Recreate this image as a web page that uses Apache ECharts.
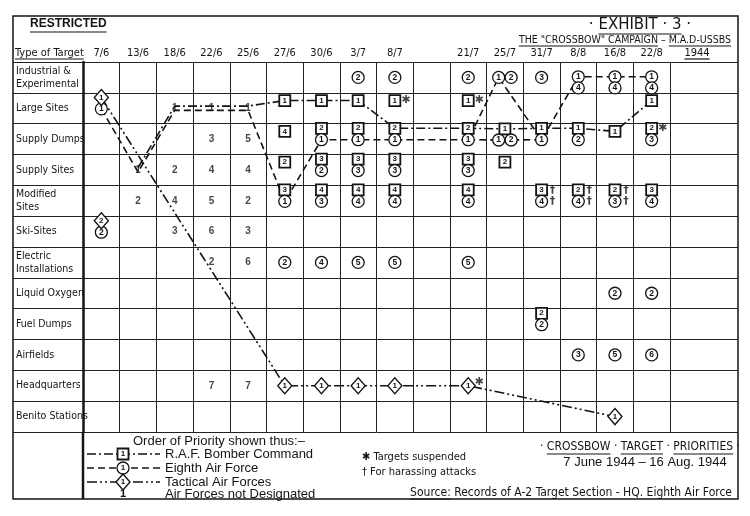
<!DOCTYPE html>
<html><head><meta charset="utf-8">
<script src="https://cdn.jsdelivr.net/npm/echarts@6/dist/echarts.min.js"></script>
<style>html,body{margin:0;padding:0;background:#fff}#c{width:750px;height:516px}</style>
</head><body><div id="c"></div>
<script>
// ---------- DATA ----------
const dates = ['7/6','13/6','18/6','22/6','25/6','27/6','30/6','3/7','8/7','','21/7','25/7','31/7','8/8','16/8','22/8'];
const targets = ['Industrial &\nExperimental','Large Sites','Supply Dumps','Supply Sites','Modified\nSites','Ski-Sites','Electric\nInstallations','Liquid Oxygen','Fuel Dumps','Airfields','Headquarters','Benito Stations'];
// [dateIndex, targetIndex, priority, note]
const rafSquares = [
  [5,1,'1'],[6,1,'1'],[7,1,'1'],[8,1,'1','*'],[10,1,'1','*'],[15,1,'1'],
  [5,2,'4'],[6,2,'2'],[7,2,'2'],[8,2,'2'],[10,2,'2'],[11,2,'1'],[12,2,'1'],[13,2,'1'],[14,2,'1'],[15,2,'2','*'],
  [5,3,'2'],[6,3,'3'],[7,3,'3'],[8,3,'3'],[10,3,'3'],[11,3,'2'],
  [5,4,'3'],[6,4,'4'],[7,4,'4'],[8,4,'4'],[10,4,'4'],[12,4,'3','†'],[13,4,'2','†'],[14,4,'2','†'],[15,4,'3'],
  [12,8,'2']
];
const eighthCircles = [
  [7,0,'2'],[8,0,'2'],[10,0,'2'],[11,0,'1'],[11,0,'2'],[12,0,'3'],[13,0,'1'],[13,0,'4'],[14,0,'1'],[14,0,'4'],[15,0,'1'],[15,0,'4'],
  [0,1,'1'],
  [6,2,'1'],[7,2,'1'],[8,2,'1'],[10,2,'1'],[11,2,'1'],[11,2,'2'],[12,2,'1'],[13,2,'2'],[15,2,'3'],
  [6,3,'2'],[7,3,'3'],[8,3,'3'],[10,3,'3'],
  [5,4,'1'],[6,4,'3'],[7,4,'4'],[8,4,'4'],[10,4,'4'],[12,4,'4','†'],[13,4,'4','†'],[14,4,'3','†'],[15,4,'4'],
  [0,5,'2'],
  [5,6,'2'],[6,6,'4'],[7,6,'5'],[8,6,'5'],[10,6,'5'],
  [14,7,'2'],[15,7,'2'],
  [12,8,'2'],
  [13,9,'3'],[14,9,'5'],[15,9,'6']
];
const tacticalDiamonds = [
  [0,1,'1'],[0,5,'2'],[5,10,'1'],[6,10,'1'],[7,10,'1'],[8,10,'1'],[10,10,'1','*'],[14,11,'1']
];
const notDesignated = [
  [2,1,'1'],[3,1,'1'],[4,1,'1'],
  [3,2,'3'],[4,2,'5'],
  [1,3,'1'],[2,3,'2'],[3,3,'4'],[4,3,'4'],
  [1,4,'2'],[2,4,'4'],[3,4,'5'],[4,4,'2'],
  [2,5,'3'],[3,5,'6'],[4,5,'3'],
  [3,6,'2'],[4,6,'6'],
  [3,10,'7'],[4,10,'7']
];
// priority-1 paths [dateIndex, targetIndex, priority]
const rafPath = [[1,3,'1'],[2,1,'1'],[3,1,'1'],[4,1,'1'],[5,1,'1'],[6,1,'1'],[7,1,'1'],[8,2,'2'],[10,2,'2'],[11,2,'1'],[12,2,'1'],[13,2,'1'],[14,2,'1'],[15,1,'1']];
const eighthPath = [[0,1,'1'],[1,3,'1'],[2,1,'1'],[3,1,'1'],[4,1,'1'],[5,4,'1'],[6,2,'1'],[7,2,'1'],[8,2,'1'],[10,2,'1'],[11,0,'1'],[12,2,'1'],[13,0,'1'],[14,0,'1'],[15,0,'1']];
const eighthBranch = [[10,2,'1'],[11,2,'1'],[12,2,'1']];
const tacticalPath = [[0,1,'1'],[5,10,'1'],[6,10,'1'],[7,10,'1'],[8,10,'1'],[10,10,'1'],[14,11,'1']];
const sideBySideCells = [[11,0],[11,2]];

// ---------- LAYOUT ----------
const INK = '#141414';
const HAND = "'Liberation Sans Narrow','DejaVu Sans Condensed','Liberation Sans',sans-serif";
const cells = {};
function add(force, arr){ arr.forEach(e => { const k = e[0]+'_'+e[1]; (cells[k] = cells[k] || []).push({force, col:e[0], row:e[1], label:e[2], note:e[3]||''}); }); }
add('raf', rafSquares); add('tac', tacticalDiamonds); add('eighth', eighthCircles); add('none', notDesignated);
Object.values(cells).forEach(items => {
  const c = items[0].col, r = items[0].row, cx = c + 0.5, cy = r + 0.5;
  const side = sideBySideCells.some(s => s[0] === c && s[1] === r);
  if (side) {
    const others = items.filter(i => i.force !== 'eighth'), circ = items.filter(i => i.force === 'eighth');
    others.forEach(i => { i.x = cx; i.y = cy - 0.33; });
    circ.forEach((i, k) => { i.x = cx + (k - (circ.length - 1) / 2) * 0.34; i.y = cy + (others.length ? 0.03 : 0); });
  } else if (items.length === 1) {
    const i = items[0]; i.x = cx; i.y = cy + (i.force === 'raf' ? -0.25 : 0);
  } else {
    items.forEach(i => i.x = cx);
    if (items[0].force === 'eighth') { items[0].y = cy - 0.02; items[1].y = cy + 0.34; }
    else { items[0].y = cy - 0.35; items[1].y = cy + 0.02; }
  }
});
const all = Object.values(cells).flat();
function pos(force, p, plainOff){
  let it = all.find(i => i.force === force && i.col === p[0] && i.row === p[1] && i.label === p[2]);
  if (it) return [it.x, it.y];
  it = all.find(i => i.force === 'none' && i.col === p[0] && i.row === p[1] && i.label === p[2]);
  return [it.x, it.y + plainOff];
}
function pts(force){ return all.filter(i => i.force === force).map(i => ({name:i.label, value:[i.x, i.y]})); }

const common = {xAxisIndex:1, yAxisIndex:1, animation:false, silent:true, emphasis:{disabled:true}};
const lineSer = (data, type, z) => Object.assign({type:'line', data, symbol:'none', z, lineStyle:{color:INK, width:1.6, type}}, common);
const markLabel = (size) => ({show:true, position:'inside', formatter:'{b}', fontSize:size, fontWeight:'bold', color:INK, fontFamily:'Liberation Sans, sans-serif'});
const series = [
  lineSer(rafPath.map(p => pos('raf', p, -0.07)), [9,3,2,3], 2),
  lineSer(eighthPath.map(p => pos('eighth', p, 0.07)), [7,4], 2),
  lineSer(eighthBranch.map(p => pos('eighth', p, 0.07)), [7,4], 2),
  lineSer(tacticalPath.map(p => pos('tac', p, 0)), [10,3,2,3,2,3], 2),
  Object.assign({type:'scatter', symbol:'rect', symbolSize:11, z:5, itemStyle:{color:'#fff', borderColor:INK, borderWidth:1.8, opacity:1}, label:markLabel(8), data:pts('raf')}, common),
  Object.assign({type:'scatter', symbol:'circle', symbolSize:12, z:5, itemStyle:{color:'#fff', borderColor:INK, borderWidth:1.3, opacity:1}, label:markLabel(8.5), data:pts('eighth')}, common),
  Object.assign({type:'scatter', symbol:'diamond', symbolSize:[14,16], z:5, itemStyle:{color:'#fff', borderColor:INK, borderWidth:1.4, opacity:1}, label:markLabel(8), data:pts('tac')}, common),
  Object.assign({type:'scatter', symbol:'rect', symbolSize:9, z:5, itemStyle:{color:'rgba(0,0,0,0)'}, label:markLabel(10), data:pts('none')}, common),
  Object.assign({type:'scatter', symbol:'rect', symbolSize:4, z:5, itemStyle:{color:'rgba(0,0,0,0)'},
    label:{show:true, position:'inside', formatter:'{b}', fontSize:11, fontWeight:'bold', color:INK, fontFamily:'DejaVu Sans, sans-serif'},
    data: all.filter(i => i.note).map(i => ({name: i.note === '*' ? '✱' : '†', value:[i.x + 0.3, i.y - (i.force === 'tac' ? 0.12 : 0)]}))}, common)
];

// ---------- DECORATION ----------
const mctx = document.createElement('canvas').getContext('2d');
function tw(t, f){ mctx.font = f; return mctx.measureText(t).width; }
const graphic = [];
function txt(x, y, text, font, align, under, ulOff){
  align = align || 'left';
  graphic.push({type:'text', x, y, z:20, silent:true, style:{text, font, fill:INK, align, verticalAlign:'middle', textAlign:align, textVerticalAlign:'middle'}});
  if (under) {
    const W = tw(text, font), left = align === 'center' ? x - W/2 : (align === 'right' ? x - W : x);
    under.forEach(part => {
      const idx = text.indexOf(part); const s = left + tw(text.slice(0, idx), font); const e = s + tw(part, font);
      graphic.push(line(s, e, y + (ulOff || 7), 1.2));
    });
  }
}
function line(x1, x2, y, wd){ return {type:'line', z:20, silent:true, shape:{x1, y1:y, x2, y2:y}, style:{stroke:INK, lineWidth:wd}}; }
// frame
graphic.push({type:'rect', z:20, silent:true, shape:{x:13, y:16, width:725, height:483}, style:{fill:'none', stroke:INK, lineWidth:1.5}});
graphic.push({type:'line', z:20, silent:true, shape:{x1:83, y1:432, x2:83, y2:499}, style:{stroke:INK, lineWidth:2.5}});
// header
txt(30, 24, 'RESTRICTED', "bold 12px 'Liberation Sans', sans-serif", 'left', ['RESTRICTED'], 8);
txt(15, 53, 'Type of Target', '11px ' + HAND, 'left', ['Type of Target'], 6);
txt(640, 25, '· EXHIBIT · 3 ·', "15px 'DejaVu Sans', sans-serif", 'center', ['EXHIBIT · 3'], 9);
txt(731, 40, 'THE "CROSSBOW" CAMPAIGN – M.A.D-USSBS', '10.5px ' + HAND, 'right', ['THE "CROSSBOW" CAMPAIGN', 'M.A.D-USSBS'], 6);
txt(697, 53, '1944', '11px ' + HAND, 'center', ['1944'], 6);
// legend
txt(133, 441, 'Order of Priority shown thus:–', "13px 'Liberation Sans', sans-serif", 'left');
const legY = [454, 468, 482];
const dashes = [[9,3,2,3],[7,4],[10,3,2,3,2,3]];
legY.forEach((y, k) => graphic.push({type:'line', z:20, silent:true, shape:{x1:87, y1:y, x2:160, y2:y}, style:{stroke:INK, lineWidth:1.6, lineDash:dashes[k]}}));
graphic.push({type:'rect', z:21, silent:true, shape:{x:117.5, y:448.5, width:11, height:11}, style:{fill:'#fff', stroke:INK, lineWidth:1.8}});
graphic.push({type:'circle', z:21, silent:true, shape:{cx:123, cy:468, r:6}, style:{fill:'#fff', stroke:INK, lineWidth:1.3}});
graphic.push({type:'polygon', z:21, silent:true, shape:{points:[[123,474],[130,482],[123,490],[116,482]]}, style:{fill:'#fff', stroke:INK, lineWidth:1.4}});
legY.forEach(y => graphic.push({type:'text', z:22, silent:true, x:123, y, style:{text:'1', font:"bold 8px 'Liberation Sans', sans-serif", fill:INK, align:'center', verticalAlign:'middle', textAlign:'center', textVerticalAlign:'middle'}}));
txt(123, 494, '1', "bold 11px 'Liberation Sans', sans-serif", 'center');
txt(165, 454, 'R.A.F. Bomber Command', "13px 'Liberation Sans', sans-serif");
txt(165, 468, 'Eighth Air Force', "13px 'Liberation Sans', sans-serif");
txt(165, 482, 'Tactical Air Forces', "13px 'Liberation Sans', sans-serif");
txt(165, 494, 'Air Forces not Designated', "13px 'Liberation Sans', sans-serif");
txt(362, 457, '✱ Targets suspended', '11px ' + HAND);
txt(362, 472, '† For harassing attacks', '11px ' + HAND);
txt(640, 447, '· CROSSBOW · TARGET · PRIORITIES ·', '12px ' + HAND, 'center', ['CROSSBOW', 'TARGET', 'PRIORITIES'], 7);
txt(645, 462, '7 June 1944 – 16 Aug. 1944', "13px 'Liberation Sans', sans-serif", 'center');
txt(732, 493, 'Source: Records of A-2 Target Section - HQ. Eighth Air Force', '12px ' + HAND, 'right', ['Source:'], 6);

// ---------- CHART ----------
const gridLine = {show:true, lineStyle:{color:'#222', width:1}};
const TOP = 62, H = 370;
const option = {
  backgroundColor:'#fff',
  animation:false,
  grid:[
    {left:13, top:TOP, width:70, height:H},
    {left:83, top:TOP, width:587, height:H},
    {left:670, top:TOP, width:68, height:H}
  ],
  xAxis:[
    {gridIndex:0, type:'value', min:0, max:1, show:false},
    {gridIndex:1, type:'value', min:0, max:16, interval:1, position:'bottom', axisLine:{show:false}, axisTick:{show:false}, axisLabel:{show:false}, splitLine:gridLine},
    {gridIndex:1, type:'category', data:dates, position:'top', axisLine:{show:false}, axisTick:{show:false}, splitLine:{show:false},
      axisLabel:{interval:0, margin:3, fontSize:11, color:INK, fontFamily:HAND}},
    {gridIndex:2, type:'value', min:0, max:1, show:false}
  ],
  yAxis:[
    {gridIndex:0, type:'category', data:targets, inverse:true, axisLine:{show:false}, axisTick:{show:false},
      splitLine:{show:true, interval:0, lineStyle:{color:'#222', width:1}},
      axisLabel:{inside:true, interval:0, margin:3, fontSize:10.5, lineHeight:13, color:INK, fontFamily:HAND}},
    {gridIndex:1, type:'value', min:0, max:12, interval:1, inverse:true, axisLine:{show:true, lineStyle:{color:INK, width:2.5}}, axisTick:{show:false}, axisLabel:{show:false}, splitLine:gridLine},
    {gridIndex:2, type:'value', min:0, max:12, interval:1, inverse:true, axisLine:{show:false}, axisTick:{show:false}, axisLabel:{show:false}, splitLine:gridLine}
  ],
  graphic,
  series
};
echarts.init(document.getElementById('c'), null, {renderer:'canvas'}).setOption(option);
</script></body></html>
